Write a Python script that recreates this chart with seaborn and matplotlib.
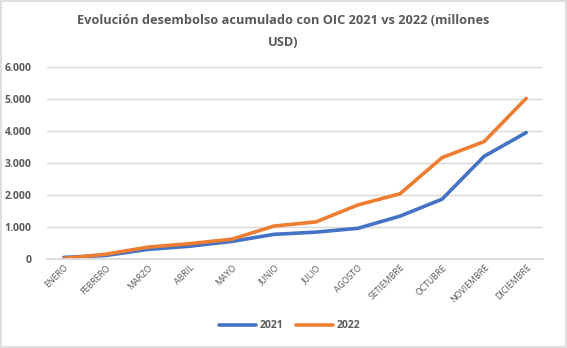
import matplotlib
matplotlib.use("Agg")
import matplotlib.pyplot as plt
import seaborn as sns
import pandas as pd
from matplotlib.ticker import FuncFormatter

months = ["ENERO", "FEBRERO", "MARZO", "ABRIL", "MAYO", "JUNIO", "JULIO",
          "AGOSTO", "SETIEMBRE", "OCTUBRE", "NOVIEMBRE", "DICIEMBRE"]
v2021 = [50, 110, 300, 400, 550, 770, 840, 960, 1340, 1870, 3210, 3950]
v2022 = [20, 150, 370, 480, 620, 1030, 1160, 1690, 2040, 3170, 3670, 5020]
series = ["2021", "2022"]
colors = ["#4472C4", "#ED7D31"]

df = pd.DataFrame({
    "mes": months * 2,
    "valor": v2021 + v2022,
    "serie": [series[0]] * 12 + [series[1]] * 12,
})

sns.set_theme(style="white")
plt.rcParams["font.family"] = ["Open Sans", "DejaVu Sans"]

fig = plt.figure(figsize=(5.67, 3.48), dpi=100)
ax = fig.add_axes([47 / 567, 1 - 259 / 348, (543 - 47) / 567, (259 - 67) / 348])

sns.lineplot(data=df, x="mes", y="valor", hue="serie", palette=colors,
             linewidth=2.6, sort=False, ax=ax, legend=True)

ax.set_ylim(0, 6000)
ax.set_yticks(range(0, 6001, 1000))
ax.yaxis.set_major_formatter(FuncFormatter(lambda v, p: f"{int(v):,}".replace(",", ".")))
ax.set_xlim(-0.4, 11.4)
ax.grid(axis="y", color="#D9D9D9", linewidth=1)
for s in ["top", "right", "left"]:
    ax.spines[s].set_visible(False)
ax.spines["bottom"].set_color("#D9D9D9")
ax.tick_params(axis="y", length=0, labelsize=7.5, labelcolor="#595959", pad=11)
ax.tick_params(axis="x", length=0, labelsize=6.3, labelcolor="#595959", pad=3)
for lab in ax.get_yticklabels():
    lab.set_fontweight("bold")
plt.setp(ax.get_xticklabels(), rotation=45, ha="right", rotation_mode="anchor")
ax.set_xlabel("")
ax.set_ylabel("")

fig.text(0.5, 1 - 20 / 348, "Evolución desembolso acumulado con OIC 2021 vs 2022 (millones",
         ha="center", va="center", fontsize=9.2, fontweight="bold", color="#595959")
fig.text(0.5, 1 - 42 / 348, "USD)",
         ha="center", va="center", fontsize=9.2, fontweight="bold", color="#595959")

handles, labels = ax.get_legend_handles_labels()
ax.legend(handles, labels, loc="center", bbox_to_anchor=(290 / 567, 1 - 326 / 348),
          bbox_transform=fig.transFigure, ncol=2, frameon=False,
          prop={"size": 7.5, "weight": "bold"}, labelcolor="#595959",
          handlelength=3.5, columnspacing=1.2, handletextpad=0.4)

fig.patches.append(plt.Rectangle((0.002, 0.003), 0.996, 0.994, transform=fig.transFigure,
                                 fill=False, edgecolor="#D9D9D9", linewidth=1.2))

fig.savefig("out.png", dpi=100)
